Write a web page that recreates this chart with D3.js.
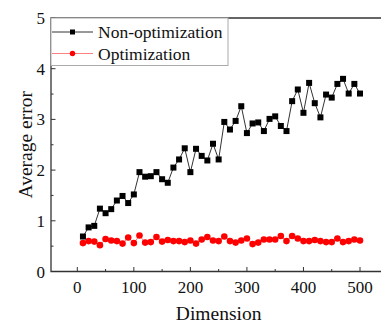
<!DOCTYPE html>
<html>
<head>
<meta charset="utf-8">
<script src="https://cdn.jsdelivr.net/npm/d3@7"></script>
<style>
  body { margin: 0; background: #fff; }
  svg { display: block; font-family: "Liberation Serif", "Times New Roman", serif; }
</style>
</head>
<body>
<div id="chart"></div>
<script>
// data
var dims = d3.range(10, 501, 10);
var nonOpt = [0.69, 0.87, 0.90, 1.24, 1.15, 1.23, 1.40, 1.49, 1.35, 1.52,
  1.96, 1.87, 1.88, 1.96, 1.82, 1.75, 2.05, 2.21, 2.43, 1.96,
  2.42, 2.28, 2.19, 2.52, 2.21, 2.95, 2.80, 2.97, 3.26, 2.73,
  2.92, 2.94, 2.77, 3.01, 3.06, 2.87, 2.77, 3.36, 3.59, 3.13,
  3.72, 3.32, 3.04, 3.49, 3.43, 3.70, 3.80, 3.51, 3.70, 3.51];
var opt = [0.56, 0.60, 0.59, 0.52, 0.64, 0.61, 0.60, 0.55, 0.67, 0.56,
  0.71, 0.57, 0.58, 0.68, 0.59, 0.62, 0.60, 0.60, 0.58, 0.61,
  0.55, 0.63, 0.68, 0.61, 0.60, 0.69, 0.60, 0.57, 0.61, 0.65,
  0.54, 0.57, 0.63, 0.63, 0.63, 0.70, 0.60, 0.70, 0.65, 0.60,
  0.60, 0.62, 0.60, 0.58, 0.58, 0.65, 0.58, 0.60, 0.63, 0.61];
var xTicks = [0, 100, 200, 300, 400, 500];
var yTicks = [0, 1, 2, 3, 4, 5];
var seriesNames = ["Non-optimization", "Optimization"];

var svgWidth = 381, svgHeight = 323;
var plotLeft = 51, plotTop = 18, plotBottom = 271.5;

var svg = d3.select("#chart").append("svg")
  .attr("width", svgWidth)
  .attr("height", svgHeight);

var x = d3.scaleLinear().domain([0, 500]).range([77.3, 360]);
var y = d3.scaleLinear().domain([0, 5]).range([plotBottom, plotTop]);

var axisColor = "#333";

// frame (right side runs off the picture)
svg.append("path")
  .attr("d", `M${svgWidth + 5},${plotTop}H${plotLeft}V${plotBottom}H${svgWidth + 5}`)
  .attr("fill", "none")
  .attr("stroke", axisColor)
  .attr("stroke-width", 1.3);

// x ticks (inward)
svg.selectAll(".xmaj").data(xTicks).enter().append("line")
  .attr("x1", d => x(d)).attr("x2", d => x(d))
  .attr("y1", plotBottom).attr("y2", plotBottom - 4.5)
  .attr("stroke", axisColor).attr("stroke-width", 1);
svg.selectAll(".xmin").data(d3.range(50, 551, 100)).enter().append("line")
  .attr("x1", d => x(d)).attr("x2", d => x(d))
  .attr("y1", plotBottom).attr("y2", plotBottom - 2.5)
  .attr("stroke", axisColor).attr("stroke-width", 1);
svg.selectAll(".xlab").data(xTicks).enter().append("text")
  .attr("x", d => x(d)).attr("y", plotBottom + 21)
  .attr("text-anchor", "middle")
  .attr("font-size", 17)
  .attr("fill", "#111")
  .text(d => d);

// y ticks (inward)
svg.selectAll(".ymaj").data(yTicks).enter().append("line")
  .attr("x1", plotLeft).attr("x2", plotLeft + 4.5)
  .attr("y1", d => y(d)).attr("y2", d => y(d))
  .attr("stroke", axisColor).attr("stroke-width", 1);
svg.selectAll(".ymin").data([0.5, 1.5, 2.5, 3.5, 4.5]).enter().append("line")
  .attr("x1", plotLeft).attr("x2", plotLeft + 2.5)
  .attr("y1", d => y(d)).attr("y2", d => y(d))
  .attr("stroke", axisColor).attr("stroke-width", 1);
svg.selectAll(".ylab").data(yTicks).enter().append("text")
  .attr("x", plotLeft - 6).attr("y", d => y(d) + 6)
  .attr("text-anchor", "end")
  .attr("font-size", 17)
  .attr("fill", "#111")
  .text(d => d);

// axis titles
svg.append("text")
  .attr("x", x(250)).attr("y", 320)
  .attr("text-anchor", "middle")
  .attr("font-size", 19.5)
  .attr("fill", "#111")
  .text("Dimension");
svg.append("text")
  .attr("transform", `translate(31.5, ${(plotTop + plotBottom) / 2}) rotate(-90)`)
  .attr("text-anchor", "middle")
  .attr("font-size", 19.5)
  .attr("fill", "#111")
  .text("Average error");

// lines
var line = d3.line().x((d, i) => x(dims[i])).y(d => y(d));
svg.append("path").datum(opt)
  .attr("d", line).attr("fill", "none")
  .attr("stroke", "#ff8080").attr("stroke-width", 1);
svg.append("path").datum(nonOpt)
  .attr("d", line).attr("fill", "none")
  .attr("stroke", "#333").attr("stroke-width", 1);

// markers
svg.selectAll(".opt").data(opt).enter().append("circle")
  .attr("cx", (d, i) => x(dims[i]))
  .attr("cy", d => y(d))
  .attr("r", 3.3)
  .attr("fill", "red");
svg.selectAll(".nonopt").data(nonOpt).enter().append("rect")
  .attr("x", (d, i) => x(dims[i]) - 3)
  .attr("y", d => y(d) - 3)
  .attr("width", 6).attr("height", 6)
  .attr("fill", "#000");

// legend
var legend = svg.append("g");
legend.append("rect")
  .attr("x", plotLeft).attr("y", plotTop)
  .attr("width", 177).attr("height", 47.5)
  .attr("fill", "#fff")
  .attr("stroke", "#aaa").attr("stroke-width", 1);
var legRows = [
  {name: seriesNames[0], y: 32, line: "#333", mark: "square"},
  {name: seriesNames[1], y: 53.5, line: "#ff8080", mark: "circle"}
];
legRows.forEach(function(r) {
  legend.append("line")
    .attr("x1", plotLeft + 1).attr("x2", 93)
    .attr("y1", r.y).attr("y2", r.y)
    .attr("stroke", r.line).attr("stroke-width", 1);
  if (r.mark === "square") {
    legend.append("rect")
      .attr("x", 72.5 - 2.5).attr("y", r.y - 2.5)
      .attr("width", 5).attr("height", 5)
      .attr("fill", "#000");
  } else {
    legend.append("circle")
      .attr("cx", 72.5).attr("cy", r.y).attr("r", 2.7)
      .attr("fill", "red");
  }
  legend.append("text")
    .attr("x", 98).attr("y", r.y + 6)
    .attr("font-size", 17.5)
    .attr("fill", "#111")
    .text(r.name);
});
</script>
</body>
</html>
